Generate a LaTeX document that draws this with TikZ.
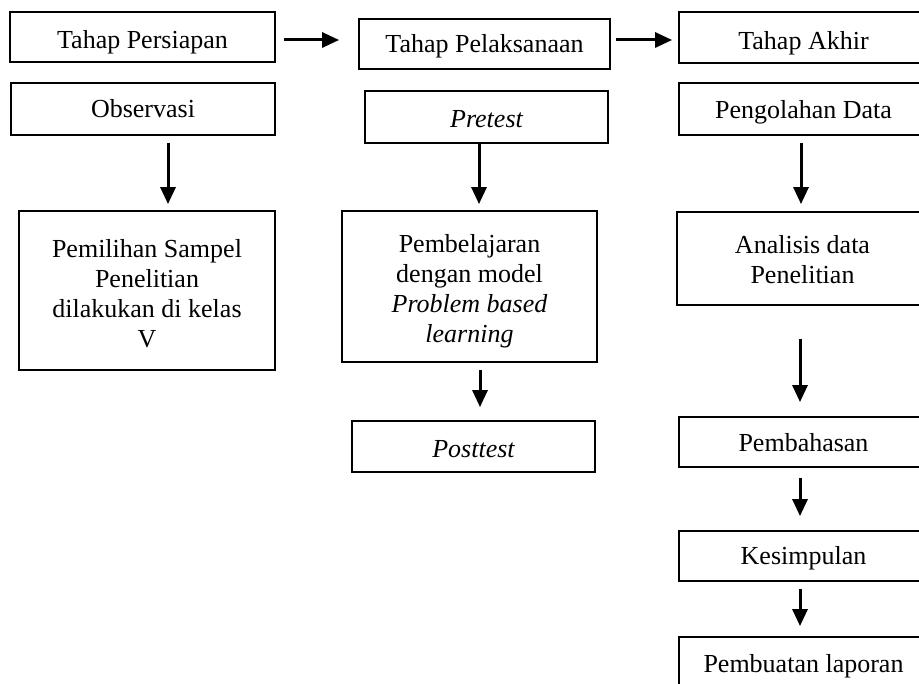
\documentclass[tikz,border=0pt]{standalone}
\usepackage{fontspec}
\setmainfont{Liberation Serif}
\usetikzlibrary{arrows.meta,calc}
\begin{document}
\begin{tikzpicture}[x=1pt,y=-1pt,
  box/.style={draw,line width=1.8pt,rectangle,inner sep=0pt},
  txt/.style={inner sep=0pt,align=center,font=\fontsize{26}{30}\selectfont},
  arr/.style={line width=3pt,-{Triangle[length=17pt,width=15pt]}}]
\useasboundingbox (0,0) rectangle (919,684);
% left column
\node[box,minimum width=265pt,minimum height=50pt] (pers) at (142.5,37) {};
\node[box,minimum width=264pt,minimum height=52pt] (obs) at (143,109) {};
\node[box,minimum width=256pt,minimum height=159pt] (pemi) at (147,290.5) {};
% middle column
\node[box,minimum width=251pt,minimum height=50pt] (pel) at (484.5,44) {};
\node[box,minimum width=243pt,minimum height=52pt] (pre) at (486.5,117) {};
\node[box,minimum width=255pt,minimum height=151pt] (pbl) at (469.5,286.5) {};
\node[box,minimum width=243pt,minimum height=51pt] (post) at (473.5,446.5) {};
% right column
\node[box,minimum width=249pt,minimum height=51pt] (akh) at (803.5,37.5) {};
\node[box,minimum width=249pt,minimum height=52pt] (olah) at (803.5,109) {};
\node[box,minimum width=251pt,minimum height=93pt] (anal) at (802.5,258.5) {};
\node[box,minimum width=249pt,minimum height=50pt] (bahas) at (803.5,442) {};
\node[box,minimum width=249pt,minimum height=50pt] (simp) at (803.5,556) {};
\node[box,minimum width=249pt,minimum height=51pt] (lap) at (803.5,662.5) {};
% texts
\node[txt,anchor=base] (tpers) at ($(pers.center)+(0,12)$) {Tahap Persiapan};
\node[txt,anchor=base] (tobs) at ($(obs.center)+(0,9)$) {Observasi};
\node[txt] (tpemi) at ($(pemi.center)+(0,3)$) {Pemilihan Sampel\\Penelitian\\dilakukan di kelas\\V};
\node[txt,anchor=base] (tpel) at ($(pel.center)+(0,9)$) {Tahap Pelaksanaan};
\node[txt,anchor=base] (tpre) at ($(pre.center)+(0,11)$) {\itshape Pretest};
\node[txt] (tpbl) at ($(pbl.center)+(0,5)$) {Pembelajaran\\dengan model\\\itshape Problem based\\\itshape learning};
\node[txt,anchor=base] (tpost) at ($(post.center)+(0,11.5)$) {\itshape Posttest};
\node[txt,anchor=base] (takh) at ($(akh.center)+(0,12.5)$) {Tahap Akhir};
\node[txt,anchor=base] (tolah) at ($(olah.center)+(0,10)$) {Pengolahan Data};
\node[txt] (tanal) at ($(anal.center)+(0,1)$) {Analisis data\\Penelitian};
\node[txt,anchor=base] (tbahas) at ($(bahas.center)+(0,10)$) {Pembahasan};
\node[txt,anchor=base] (tsimp) at ($(simp.center)+(0,9)$) {Kesimpulan};
\node[txt,anchor=base] (tlap) at ($(lap.center)+(0,9.5)$) {Pembuatan laporan};
% horizontal arrows
\draw[arr] ($(pers.east)+(8,3)$) -- ($(pel.west)+(-19,-4)$);
\draw[arr] ($(pel.east)+(5,-4)$) -- ($(akh.west)+(-6,2.5)$);
% vertical arrows
\draw[arr] ($(obs.south)+(25,7)$) -- ($(pemi.north)+(21,-6)$);
\draw[arr] ($(pre.south)+(-7.5,0)$) -- ($(pbl.north)+(9.5,-6)$);
\draw[arr] ($(pbl.south)+(10.5,7)$) -- ($(post.north)+(6.5,-13)$);
\draw[arr] ($(olah.south)+(-2.5,7)$) -- ($(anal.north)+(-1.5,-7)$);
\draw[arr] ($(anal.south)+(-2.5,33)$) -- ($(bahas.north)+(-3.5,-14)$);
\draw[arr] ($(bahas.south)+(-3.5,10)$) -- ($(simp.north)+(-3.5,-14)$);
\draw[arr] ($(simp.south)+(-3.5,7)$) -- ($(lap.north)+(-3.5,-10)$);
\end{tikzpicture}
\end{document}
